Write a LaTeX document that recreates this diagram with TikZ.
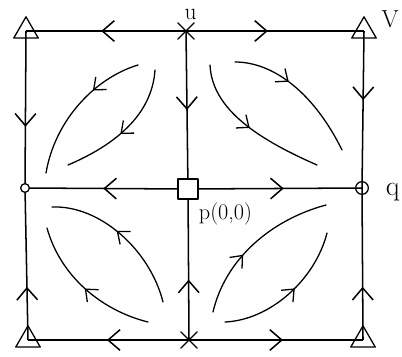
\documentclass[tikz,border=0pt]{standalone}
\usetikzlibrary{arrows.meta,positioning,shapes.geometric,shapes.misc,decorations.markings,backgrounds}

\begin{document}
\begin{tikzpicture}[x=0.03cm, y=-0.03cm, line cap=round, line join=round,
  tri/.style={draw, regular polygon, regular polygon sides=3, minimum size=0.85cm, inner sep=0pt, line width=1.1pt},
  xmark/.style={draw, cross out, minimum size=0.45cm, inner sep=0pt, line width=1.1pt},
  ring/.style={draw, circle, fill=white, minimum size=#1, inner sep=0pt, line width=1.1pt},
  sq/.style={draw, rectangle, fill=white, minimum size=0.6cm, inner sep=0pt, line width=1.1pt},
  lbl/.style={font=\fontsize{24}{28}\selectfont, inner sep=0pt},
  side/.style={line width=1.3pt, postaction={decorate, decoration={markings, mark=at position #1 with {\arrow{Straight Barb[length=3.6mm, width=6.2mm]}}}}},
  orbit/.style={line width=1.1pt, postaction={decorate, decoration={markings, mark=at position #1 with {\arrow{Straight Barb[length=3mm, width=5mm]}}}}}]
\useasboundingbox (0,0) rectangle (402,356);
\node[tri] (tl) at (26,31) {};
\node[xmark] (u) at (186,31) {};
\node[tri] (tr) at (364,31) {};
\node[ring=0.26cm] (w) at (25,188) {};
\node[sq] (p) at (188,189) {};
\node[ring=0.38cm, fill=none] (q) at (362,188) {};
\node[tri] (bl) at (28,340) {};
\node[xmark] (m) at (189,340) {};
\node[tri] (br) at (363,340) {};
\node[lbl, font=\fontsize{20}{24}\selectfont, above=0.1cm of u, xshift=0.14cm] (ulbl) {u};
\node[lbl, font=\fontsize{21}{25}\selectfont, right=0.25cm of tr, yshift=0.36cm] (vlbl) {V};
\node[lbl, right=0.5cm of q, yshift=-0.12cm] (qlbl) {q};
\node[lbl, font=\fontsize{19}{22}\selectfont, below right=0.1cm and 0cm of p] (plbl) {p(0,0)};
\begin{scope}[on background layer]
\draw[side=0.53] (u.center) -- (tl.center);
\draw[side=0.46] (u.center) -- (tr.center);
\draw[side=0.61] (tl.center) -- (w.center);
\draw[side=0.35] (bl.center) -- (w.center);
\draw[side=0.5] (u.center) -- (p.center);
\draw[side=0.4] (m.center) -- (p.center);
\draw[side=0.44] (tr.center) -- (q.center);
\draw[side=0.35] (br.center) -- (q.center);
\draw[side=0.52] (p.center) -- (w.center);
\draw[side=0.55] (p.center) -- (q.center);
\draw[side=0.51] (m.center) -- (bl.center);
\draw[side=0.54] (m.center) -- (br.center);
\end{scope}
\draw[orbit=0.35] (138,65) .. controls (95,78) and (55,120) .. (46,173);
\draw[orbit=0.55] (155,70) .. controls (152,115) and (115,145) .. (68,165);
\draw[orbit=0.4] (235,62) .. controls (275,62) and (315,95) .. (342,150);
\draw[orbit=0.5] (210,65) .. controls (212,110) and (260,140) .. (317,165);
\draw[orbit=0.55] (163,302) .. controls (150,250) and (100,205) .. (52,207);
\draw[orbit=0.5] (148,322) .. controls (100,310) and (60,275) .. (47,228);
\draw[orbit=0.4] (213,312) .. controls (225,260) and (270,220) .. (326,205);
\draw[orbit=0.55] (225,322) .. controls (270,320) and (315,280) .. (327,233);
\end{tikzpicture}
\end{document}
